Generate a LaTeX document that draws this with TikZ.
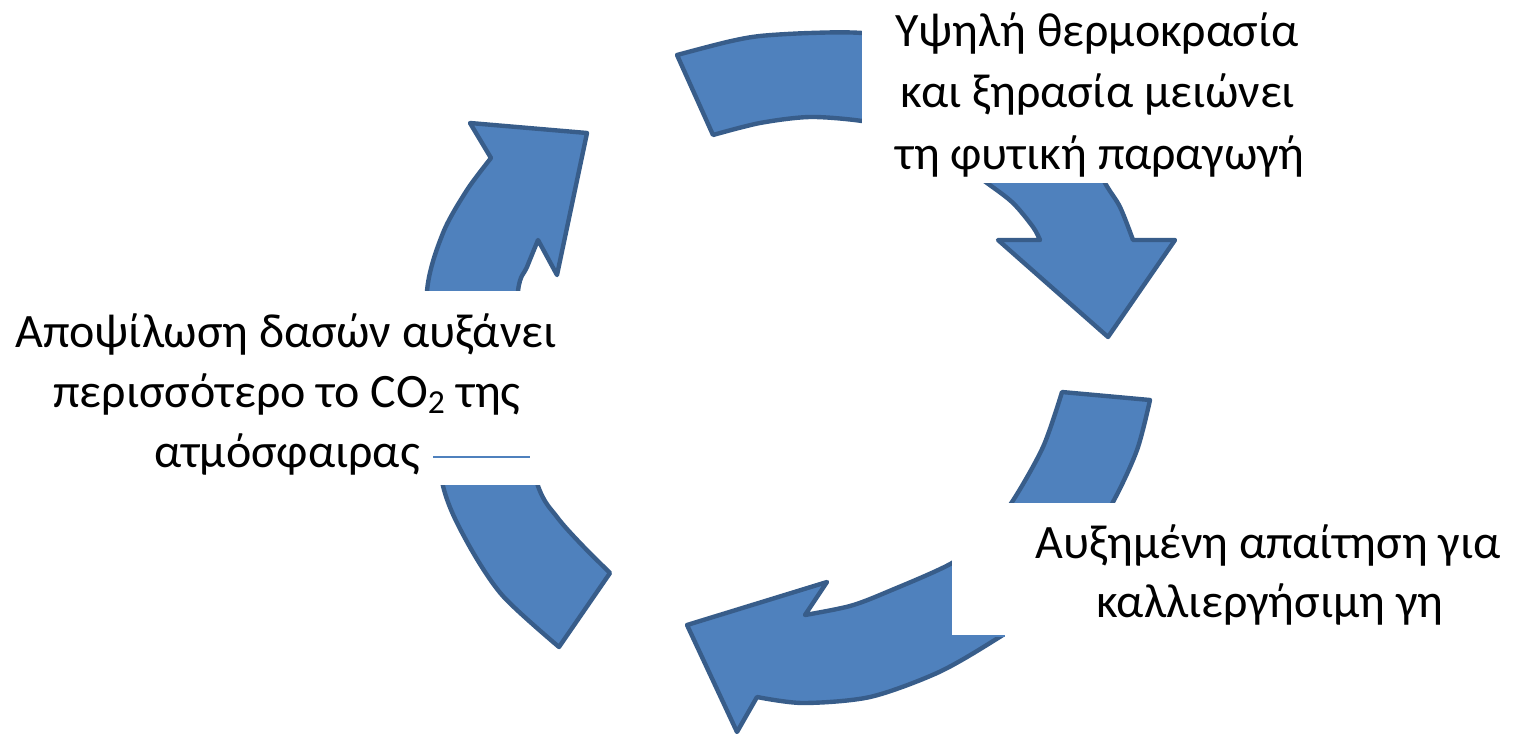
\documentclass[tikz,border=0pt]{standalone}
\usepackage{fontspec}
\setmainfont{Carlito}
\definecolor{afill}{HTML}{4F81BD}
\definecolor{aline}{HTML}{385D8A}
\begin{document}
\begin{tikzpicture}[x=0.02cm,y=-0.02cm,
  arrowshape/.style={fill=afill, draw=aline, line width=2.5pt, line join=round},
  wbox/.style={fill=white, draw=none, inner sep=0pt},
  lbl/.style={font=\fontsize{27.3}{34.7}\selectfont, anchor=base, inner sep=0pt},
  seam/.style={draw=afill, line width=0.7pt}]
\useasboundingbox (0,0) rectangle (1513,733);
% arrow 1 (top -> right)
\draw[arrowshape] (713,135) -- (677,55) -- plot[smooth] coordinates {(677,55) (727,42) (760,36) (810,33) (862,33) (940,42) (1020,72) (1075,128) (1105,183) (1120,207) (1133,240)} -- (1175,240) -- (1108,337) -- (998,240) -- (1040,240) -- plot[smooth] coordinates {(1040,240) (1033,227) (1013,203) (987,183) (940,150) (900,130) (862,121) (810,117) (760,123) (713,135)} -- cycle;
% arrow 2 (right -> bottom)
\draw[arrowshape] (1062,392) -- (1150,400) -- plot[smooth] coordinates {(1150,400) (1137,450) (1113,502) (1075,565) (1030,615) (990,643) (937,673) (870,697) (803,703) (757,697)} -- (737,732) -- (687,625) -- (827,582) -- (805,615) -- plot[smooth] coordinates {(805,615) (850,606) (887,592) (952,563) (985,535) (1012,502) (1043,447) (1062,392)} -- cycle;
% arrow 3 (bottom-left -> top)
\draw[arrowshape] (610,573) -- (559,647) -- plot[smooth] coordinates {(559,647) (502,595) (466,540) (443,486) (429,390) (427,291) (443,233) (467,190) (491,158)} -- (470,123) -- (587,133) -- (557,275) -- (538,240) -- plot[smooth] coordinates {(538,240) (527,267) (518,291) (512,390) (538,486) (557,517) (580,543) (610,573)} -- cycle;
% white label boxes
\node[wbox, minimum width=9.4cm, minimum height=3.8cm] (box1) at (1097,88) {};
\node[wbox, minimum width=11.44cm, minimum height=3.88cm] (box2) at (286,388) {};
\node[wbox, minimum width=11.22cm, minimum height=2.68cm] (box3) at (1232.5,570) {};
% labels
\node[lbl] (t1a) at (1097,47) {Υψηλή θερμοκρασία};
\node[lbl] (t1b) at (1098,108) {και ξηρασία μειώνει};
\node[lbl] (t1c) at (1100,170) {τη φυτική παραγωγή};
\node[lbl] (t2a) at (286,347) {Αποψίλωση δασών αυξάνει};
\node[lbl] (t2b) at (287,407) {περισσότερο το CO\textsubscript{2} της};
\node[lbl] (t2c) at (287,467) {ατμόσφαιρας};
\node[lbl] (t3a) at (1268,558) {Αυξημένη απαίτηση για};
\node[lbl] (t3b) at (1270,617) {καλλιεργήσιμη γη};
% thin seams
\coordinate (s1a) at (433,457);
\coordinate (s1b) at (530,457);
\coordinate (s2a) at (952,636);
\coordinate (s2b) at (1005,636);
\draw[seam] (s1a) -- (s1b);
\draw[seam] (s2a) -- (s2b);
\end{tikzpicture}
\end{document}
